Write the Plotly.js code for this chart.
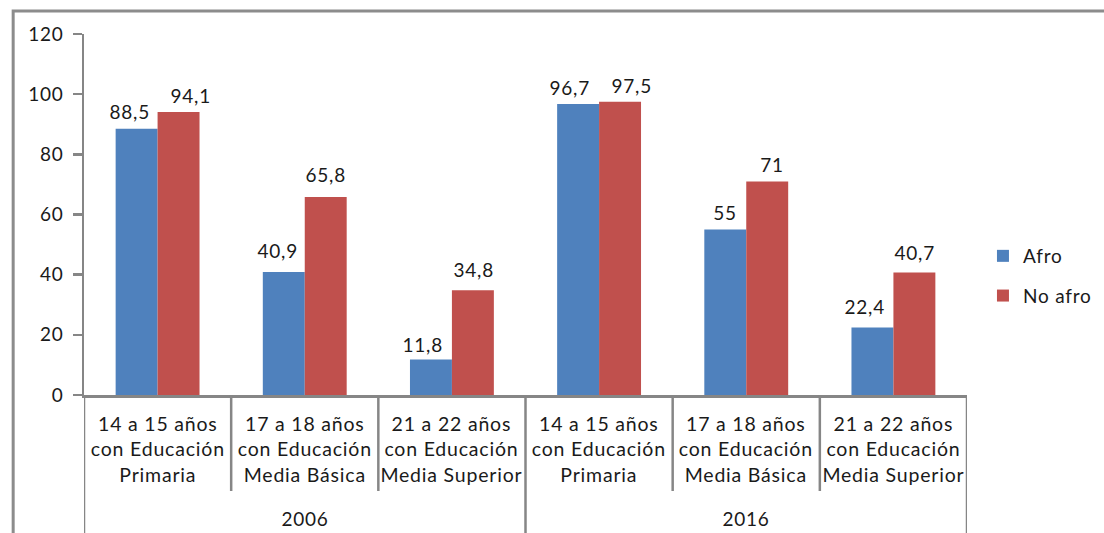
<!DOCTYPE html>
<html>
<head>
<meta charset="utf-8">
<script src="https://cdn.plot.ly/plotly-3.0.1.min.js"></script>
<style>
  html, body { margin: 0; padding: 0; background: #fff; }
  #chart { width: 1104px; height: 533px; }
  #chart svg text { letter-spacing: 0.8px; }
</style>
</head>
<body>
<div id="chart"></div>
<script>
// ---- data ----
const years = ['2006', '2016'];
const categoryLabels = [
  '14 a 15 años<br>con Educación<br>Primaria',
  '17 a 18 años<br>con Educación<br>Media Básica',
  '21 a 22 años<br>con Educación<br>Media Superior'
];
const seriesNames = ['Afro', 'No afro'];
const afroValues = [88.5, 40.9, 11.8, 96.7, 55, 22.4];
const noAfroValues = [94.1, 65.8, 34.8, 97.5, 71, 40.7];
const yTickValues = [0, 20, 40, 60, 80, 100, 120];

// ---- layout: manual nudges of the data labels (pixels), as placed in the original ----
const labelNudgeX = [[-7, -6.5, -8.5, -9, 0, -7.5], [12, 0, 1, 11, 5, 0]];
const labelNudgeY = [[4, 7.5, 1.5, 3.2, 3.5, 7.5], [2.5, 9.5, 7.5, 2.5, 3.5, 6.5]];

// ---- layout helpers ----
const W = 1104, H = 533;
const M = { l: 84, r: 135, t: 34, b: 138 };
const plotW = W - M.l - M.r, plotH = H - M.t - M.b;
const py = px => (H - M.b - px) / plotH;      // pixel row -> paper y
const pxx = px => (px - M.l) / plotW;          // pixel col -> paper x

const FONT = 'Lato, "Open Sans", sans-serif';
const TXT = '#1a1a1a';
const AX = '#868686';
const BARGAP = 0.43;
const nCat = categoryLabels.length;
const xs = [];
const labels = [];
years.forEach((y, yi) => categoryLabels.forEach((c, ci) => { xs.push(yi * nCat + ci); labels.push(c); }));
const fmt = v => String(v).replace('.', ',');
const seriesValues = [afroValues, noAfroValues];
const colors = ['#4F81BD', '#C0504D'];

const traces = seriesValues.map((vals, s) => ({
  type: 'bar', name: seriesNames[s], x: xs, y: vals,
  marker: { color: colors[s] },
  legendgroup: 'g' + s, hoverinfo: 'skip'
}));

const shapes = [];
const annotations = [];
// data labels above bars
const barW = (1 - BARGAP) / seriesValues.length;
seriesValues.forEach((vals, s) => {
  vals.forEach((v, i) => {
    annotations.push({
      xref: 'x', yref: 'y', x: xs[i] + (s - (seriesValues.length - 1) / 2) * barW, y: v,
      yanchor: 'bottom', xanchor: 'center',
      xshift: labelNudgeX[s][i], yshift: labelNudgeY[s][i],
      text: fmt(v), showarrow: false,
      font: { family: FONT, size: 19, color: TXT }
    });
  });
});
// separators: inner ones shorter, year boundaries full
for (let i = 0; i <= xs.length; i++) {
  const isOuter = i % nCat === 0;
  shapes.push({
    type: 'line', xref: 'x', yref: 'paper',
    x0: i - 0.5, x1: i - 0.5, y0: 0, y1: isOuter ? py(545) : py(491),
    line: { color: AX, width: 2.5 }
  });
}
// category labels
xs.forEach((x, i) => {
  annotations.push({
    xref: 'x', yref: 'paper', x: x, y: py(410), yanchor: 'top', xanchor: 'center',
    text: labels[i], showarrow: false, align: 'center',
    font: { family: FONT, size: 19.5, color: TXT }
  });
});
// year labels
years.forEach((y, yi) => {
  annotations.push({
    xref: 'x', yref: 'paper', x: yi * nCat + (nCat - 1) / 2, y: py(518), yanchor: 'middle', xanchor: 'center',
    text: y, showarrow: false,
    font: { family: FONT, size: 19, color: TXT }
  });
});
// outer chart border (Excel chart area)
shapes.push({
  type: 'rect', xref: 'paper', yref: 'paper',
  x0: pxx(13), x1: pxx(1200), y0: py(600), y1: py(11),
  line: { color: '#8c8c8c', width: 3 }, fillcolor: 'rgba(0,0,0,0)', layer: 'below'
});

const layout = {
  width: W, height: H,
  margin: M,
  paper_bgcolor: '#fff', plot_bgcolor: '#fff',
  font: { family: FONT, size: 19, color: TXT },
  barmode: 'group', bargap: BARGAP, bargroupgap: 0,
  showlegend: true,
  legend: {
    x: pxx(985), y: py(276), xanchor: 'left', yanchor: 'middle',
    traceorder: 'grouped', tracegroupgap: 12,
    font: { family: FONT, size: 19, color: TXT },
    bgcolor: 'rgba(0,0,0,0)'
  },
  xaxis: {
    type: 'linear', range: [-0.5, xs.length - 0.5],
    showticklabels: false, ticks: '', showgrid: false, zeroline: false,
    showline: true, linecolor: AX, linewidth: 2.5, fixedrange: true
  },
  yaxis: {
    range: [0, 120], tickvals: yTickValues, ticktext: yTickValues.map(String),
    ticks: 'outside', ticklen: 9, tickwidth: 2.5, tickcolor: AX,
    showline: true, linecolor: AX, linewidth: 2.5,
    showgrid: false, zeroline: false, ticklabelstandoff: 5,
    tickfont: { family: FONT, size: 19, color: TXT }, fixedrange: true
  },
  shapes: shapes,
  annotations: annotations
};

Plotly.newPlot('chart', traces, layout, { staticPlot: true });
</script>
</body>
</html>
